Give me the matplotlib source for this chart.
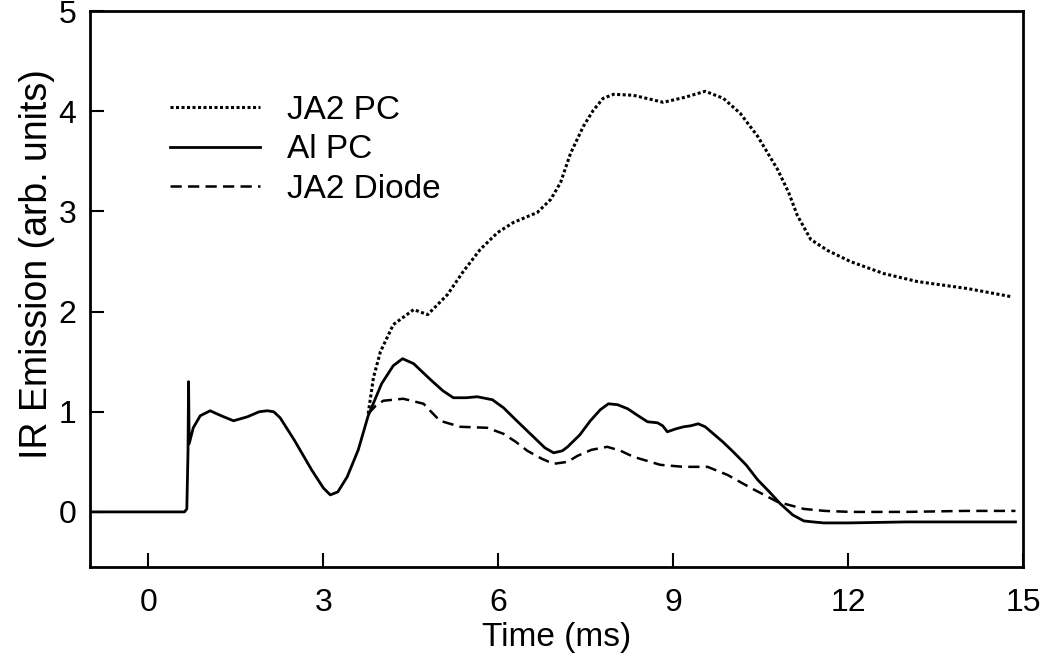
import numpy as np
import matplotlib
matplotlib.use('Agg')
from matplotlib import pyplot as plt

plt.rcParams['font.family'] = ['Liberation Sans', 'DejaVu Sans']

# Al PC (solid)
al_t = [-1.0, 0.62, 0.66, 0.68, 0.69, 0.70, 0.77, 0.89, 1.06, 1.25, 1.46, 1.70, 1.90, 2.04, 2.15,
        2.26, 2.50, 2.80, 3.00, 3.12, 3.25, 3.41, 3.60, 3.77, 4.00, 4.20, 4.36, 4.55, 4.84, 5.05,
        5.23, 5.45, 5.64, 5.90, 6.09, 6.30, 6.55, 6.80, 6.95, 7.10, 7.19, 7.40, 7.58, 7.75, 7.89,
        8.05, 8.22, 8.40, 8.56, 8.73, 8.82, 8.90, 9.05, 9.18, 9.30, 9.43, 9.55, 9.69, 9.85, 10.03,
        10.25, 10.45, 10.65, 10.84, 11.05, 11.24, 11.40, 11.58, 12.0, 13.0, 14.0, 14.87]
al_v = [0.0, 0.0, 0.03, 0.60, 1.30, 0.68, 0.84, 0.96, 1.01, 0.96, 0.91, 0.95, 1.00, 1.01, 1.00,
        0.94, 0.72, 0.42, 0.24, 0.17, 0.20, 0.35, 0.62, 0.96, 1.28, 1.46, 1.53, 1.48, 1.32, 1.21,
        1.14, 1.14, 1.15, 1.12, 1.04, 0.92, 0.78, 0.64, 0.59, 0.61, 0.65, 0.77, 0.91, 1.02, 1.08,
        1.07, 1.03, 0.96, 0.90, 0.89, 0.86, 0.80, 0.83, 0.85, 0.86, 0.88, 0.85, 0.78, 0.70, 0.60,
        0.47, 0.32, 0.20, 0.08, -0.03, -0.09, -0.10, -0.11, -0.11, -0.10, -0.10, -0.10]

# JA2 Diode (dashed)
diode_t = [3.77, 3.90, 4.03, 4.37, 4.72, 4.85, 5.00, 5.35, 5.81, 6.09, 6.30, 6.50, 6.75, 6.95,
           7.19, 7.36, 7.60, 7.87, 8.10, 8.32, 8.55, 8.78, 9.18, 9.59, 9.93, 10.33, 10.79, 11.24,
           11.60, 12.04, 13.0, 14.0, 14.87]
diode_v = [0.98, 1.06, 1.11, 1.13, 1.08, 1.00, 0.91, 0.85, 0.84, 0.78, 0.70, 0.61, 0.53, 0.48,
           0.50, 0.56, 0.62, 0.65, 0.61, 0.55, 0.51, 0.47, 0.45, 0.45, 0.37, 0.24, 0.10, 0.03,
           0.01, 0.0, 0.0, 0.01, 0.01]

# JA2 PC (dotted)
pc_t = [3.77, 3.86, 3.98, 4.20, 4.55, 4.79, 5.13, 5.40, 5.69, 5.99, 6.26, 6.67, 6.90, 7.07,
        7.24, 7.46, 7.63, 7.80, 7.98, 8.32, 8.83, 9.20, 9.55, 9.86, 10.15, 10.45, 10.79, 10.98,
        11.13, 11.36, 11.65, 12.04, 12.61, 13.19, 14.05, 14.79]
pc_v = [0.98, 1.34, 1.60, 1.87, 2.02, 1.97, 2.17, 2.40, 2.62, 2.79, 2.89, 2.99, 3.12, 3.29,
        3.58, 3.85, 4.01, 4.13, 4.17, 4.16, 4.09, 4.14, 4.20, 4.13, 3.98, 3.75, 3.42, 3.19,
        2.96, 2.72, 2.61, 2.50, 2.38, 2.30, 2.23, 2.15]

fig = plt.figure(figsize=(10.42, 6.57), dpi=100)
ax = fig.add_axes([0.0864, 0.137, 0.8954, 0.846])

ax.plot(pc_t, pc_v, color='black', lw=2.2, linestyle=(0, (1, 0.8)), label='JA2 PC')
ax.plot(al_t, al_v, color='black', lw=2.0, linestyle='-', label='Al PC')
ax.plot(diode_t, diode_v, color='black', lw=1.8, linestyle=(0, (4.5, 2.5)), label='JA2 Diode')

ax.set_xlim(-1, 15)
ax.set_ylim(-0.55, 5)
ax.set_xticks([0, 3, 6, 9, 12, 15])
ax.set_yticks([0, 1, 2, 3, 4, 5])
ax.tick_params(direction='in', length=10, width=1.5, labelsize=23)
ax.tick_params(axis='x', pad=15)
ax.tick_params(axis='y', pad=10)
for s in ax.spines.values():
    s.set_linewidth(2)

ax.set_xlabel('Time (ms)', fontsize=24, labelpad=3)
ax.set_ylabel('IR Emission (arb. units)', fontsize=27)
ax.yaxis.set_label_coords(-0.038, 0.545)

ax.legend(loc='upper left', bbox_to_anchor=(0.0857, 0.849), frameon=False, fontsize=24,
          handlelength=2.7, handletextpad=0.8, labelspacing=0.25, borderpad=0,
          borderaxespad=0)

fig.savefig('out.png', dpi=100, facecolor='w')
